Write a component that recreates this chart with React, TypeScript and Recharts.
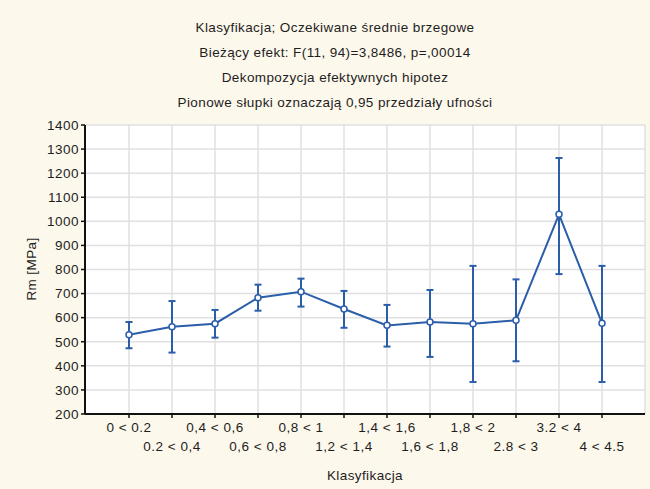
import React from 'react';
import { ComposedChart, Line, XAxis, YAxis, CartesianGrid, ErrorBar } from 'recharts';

const categories = ['0 < 0.2', '0.2 < 0,4', '0,4 < 0,6', '0,6 < 0,8', '0,8 < 1', '1,2 < 1,4', '1,4 < 1,6', '1,6 < 1,8', '1,8 < 2', '2.8 < 3', '3.2 < 4', '4 < 4.5'];
const means = [529, 562, 575, 683, 708, 636, 568, 582, 575, 589, 1029, 577];
const lower = [473, 455, 517, 629, 646, 558, 480, 437, 333, 419, 781, 333];
const upper = [582, 669, 632, 737, 762, 711, 653, 715, 815, 759, 1263, 815];
const yTicks = [200, 300, 400, 500, 600, 700, 800, 900, 1000, 1100, 1200, 1300, 1400];
const titles = [
  'Klasyfikacja; Oczekiwane średnie brzegowe',
  'Bieżący efekt: F(11, 94)=3,8486, p=,00014',
  'Dekompozycja efektywnych hipotez',
  'Pionowe słupki oznaczają 0,95 przedziały ufności',
];

const data = categories.map((c, i) => ({
  name: c,
  rm: means[i],
  err: [means[i] - lower[i], upper[i] - means[i]],
}));

const FONT = '"Liberation Sans", Arial, sans-serif';
const BLUE = '#2b5ea9';
const TEXT = '#1e1e1e';

const XTick = (props: any) => {
  const { x, y, payload, index } = props;
  const row = index % 2;
  return (
    <text x={x} y={y} dy={row ? 33 : 14} textAnchor="middle" fontSize={13.5} letterSpacing={0.5} fontFamily={FONT} fill={TEXT}>
      {payload.value}
    </text>
  );
};

export default function App() {
  return (
    <div style={{ position: 'absolute', left: 0, top: 0, width: 650, height: 489, background: '#fdf8ec', fontFamily: FONT }}>
      <div style={{ position: 'absolute', left: 10, top: 15, width: 650, textAlign: 'center', fontSize: 13.5, letterSpacing: 0.4, color: TEXT }}>
        {titles.map((t) => (
          <div key={t} style={{ height: 25, lineHeight: '25px' }}>{t}</div>
        ))}
      </div>
      <ComposedChart width={650} height={489} data={data} margin={{ top: 125, right: 5, bottom: 0, left: 0 }}>
        <CartesianGrid stroke="#e0e0e0" strokeWidth={1.5} fill="#ffffff" />
        <XAxis
          dataKey="name"
          type="category"
          scale="point"
          padding={{ left: 44, right: 43 }}
          height={75}
          interval={0}
          tick={<XTick />}
          tickSize={4}
          tickMargin={0}
          axisLine={{ stroke: '#111', strokeWidth: 2 }}
          tickLine={{ stroke: '#111', strokeWidth: 1.5 }}
        />
        <XAxis
          xAxisId="top"
          orientation="top"
          dataKey="name"
          type="category"
          scale="point"
          padding={{ left: 44, right: 43 }}
          height={0}
          tick={false}
          axisLine={{ stroke: '#111', strokeWidth: 2 }}
          tickLine={false}
        />
        <YAxis
          domain={[200, 1400]}
          ticks={yTicks}
          width={85}
          interval={0}
          tickSize={4}
          tickMargin={2}
          tick={{ fontSize: 13.5, fontFamily: FONT, fill: TEXT, letterSpacing: 0.5 }}
          axisLine={{ stroke: '#111', strokeWidth: 2 }}
          tickLine={{ stroke: '#111', strokeWidth: 1.5 }}
        />
        <YAxis
          yAxisId="right"
          orientation="right"
          domain={[200, 1400]}
          ticks={yTicks}
          width={0}
          tick={false}
          axisLine={{ stroke: '#111', strokeWidth: 2 }}
          tickLine={false}
        />
        <Line
          dataKey="rm"
          stroke={BLUE}
          strokeWidth={2}
          isAnimationActive={false}
          dot={{ r: 3, fill: '#ffffff', stroke: BLUE, strokeWidth: 1.5 }}
        >
          <ErrorBar dataKey="err" width={3.5} stroke={BLUE} strokeWidth={2} direction="y" />
        </Line>
      </ComposedChart>
      <div style={{ position: 'absolute', left: 31, top: 269, transform: 'translate(-50%, -50%) rotate(-90deg)', fontSize: 13.5, letterSpacing: 0.4, color: TEXT, whiteSpace: 'nowrap' }}>
        Rm [MPa]
      </div>
      <div style={{ position: 'absolute', left: 265, top: 468, width: 200, textAlign: 'center', fontSize: 13.5, letterSpacing: 0.4, color: TEXT }}>
        Klasyfikacja
      </div>
    </div>
  );
}
